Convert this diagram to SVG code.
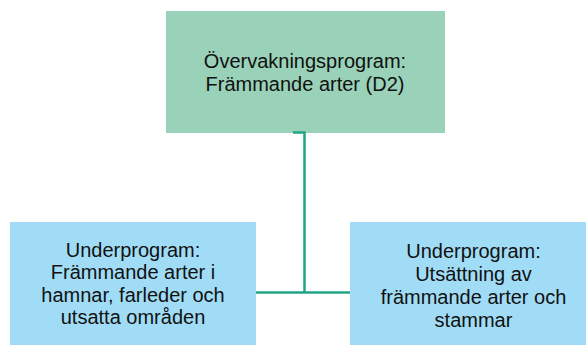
<svg xmlns="http://www.w3.org/2000/svg" width="586" height="345" viewBox="0 0 586 345">
<style>
.t{font-family:"Liberation Sans",Arial,sans-serif;font-size:20px;fill:#111;text-anchor:middle}
.top{fill:#99D2B8}
.sub{fill:#A0DCF6}
.c{fill:none;stroke:#22A586;stroke-width:2.5}
</style>
<rect width="586" height="345" fill="#fff"/>
<g id="top">
<rect class="top" x="166" y="11" width="279" height="122"/>
<text class="t" x="305" y="68">Övervakningsprogram:</text>
<text class="t" x="305" y="91">Främmande arter (D2)</text>
</g>
<g id="left">
<rect class="sub" x="10" y="222" width="246" height="123"/>
<text class="t" x="133" y="256.5">Underprogram:</text>
<text class="t" x="133" y="279">Främmande arter i</text>
<text class="t" x="133" y="301.5">hamnar, farleder och</text>
<text class="t" x="133" y="324">utsatta områden</text>
</g>
<g id="right">
<rect class="sub" x="350" y="222" width="247" height="123"/>
<text class="t" x="473.5" y="258">Underprogram:</text>
<text class="t" x="473.5" y="281">Utsättning av</text>
<text class="t" x="473.5" y="304">främmande arter och</text>
<text class="t" x="473.5" y="327">stammar</text>
</g>
<g id="connectors">
<path class="c" d="M293 132.5H304.5V292.5"/>
<path class="c" d="M256 292.5H350"/>
</g>
</svg>
